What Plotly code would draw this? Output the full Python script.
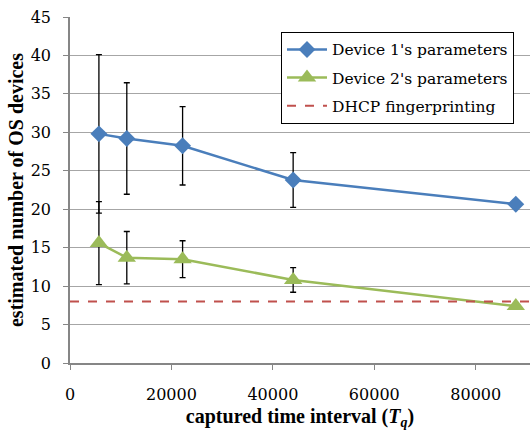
import plotly.graph_objects as go

x_vals = [5700, 11200, 22200, 44000, 87900]
dev1 = [29.8, 29.2, 28.25, 23.8, 20.65]
dev1_err = [10.3, 7.25, 5.1, 3.55, None]
dev2 = [15.6, 13.7, 13.5, 10.8, 7.4]
dev2_err = [5.4, 3.4, 2.4, 1.6, None]
dhcp_level = 8
x_range = [0, 90700]
x_ticks = [0, 20000, 40000, 60000, 80000]
y_ticks = [0, 5, 10, 15, 20, 25, 30, 35, 40, 45]

SERIF = "DejaVu Serif"
BOLD = "Liberation Serif"

fig = go.Figure()
fig.add_trace(go.Scatter(
    x=x_vals, y=dev1, mode="lines+markers", name="Device 1's parameters", legendgroup="a",
    line=dict(color="#4A7EBB", width=2.5),
    marker=dict(symbol="diamond", size=13, color="#4A7EBB"),
    error_y=dict(type="data", array=dev1_err, visible=True, color="black", thickness=1.3, width=3),
))
fig.add_trace(go.Scatter(
    x=x_vals, y=dev2, mode="lines+markers", name="Device 2's parameters", legendgroup="b",
    line=dict(color="#9BBB59", width=2.5),
    marker=dict(symbol="triangle-up", size=16, color="#9BBB59"),
    error_y=dict(type="data", array=dev2_err, visible=True, color="black", thickness=1.3, width=3),
))
fig.add_trace(go.Scatter(
    x=x_range, y=[dhcp_level, dhcp_level], mode="lines", name="DHCP fingerprinting", legendgroup="c",
    line=dict(color="#C0504D", width=2, dash="dash"),
))

fig.update_layout(
    width=530, height=430,
    margin=dict(l=70, r=0, t=17, b=67),
    paper_bgcolor="white", plot_bgcolor="white",
    font=dict(family=SERIF, size=16, color="black"),
    showlegend=True,
    legend=dict(
        x=0.4587, y=0.957, xanchor="left", yanchor="top",
        bgcolor="white", bordercolor="black", borderwidth=1,
        font=dict(family=SERIF, size=15.5, color="black"),
        itemwidth=40, tracegroupgap=5,
    ),
    xaxis=dict(
        range=x_range, tickvals=x_ticks, ticktext=[str(v) for v in x_ticks],
        tickfont=dict(family=SERIF, size=16, color="black"),
        showgrid=False, zeroline=False,
        showline=True, linecolor="#868686", linewidth=1.5,
        ticks="outside", ticklen=5, tickcolor="#868686",
        ticklabelstandoff=11,
        title=dict(text="<b>captured time interval (<i>T<sub>q</sub></i>)</b>",
                   font=dict(family=BOLD, size=20, color="black"), standoff=6),
        automargin=False,
    ),
    yaxis=dict(
        range=[0, 45], tickvals=y_ticks,
        tickfont=dict(family=SERIF, size=16, color="black"),
        showgrid=True, gridcolor="#A6A6A6", gridwidth=1.2, zeroline=False,
        showline=True, linecolor="#868686", linewidth=1.5,
        ticks="outside", ticklen=5, tickcolor="#868686",
        ticklabelstandoff=9,
        title=dict(text="<b>estimated number of OS devices</b>",
                   font=dict(family=BOLD, size=20, color="black"), standoff=2),
        automargin=False,
    ),
)

fig.write_html("out.html", config={"displayModeBar": False},
               post_script="document.body.style.margin='0';")
